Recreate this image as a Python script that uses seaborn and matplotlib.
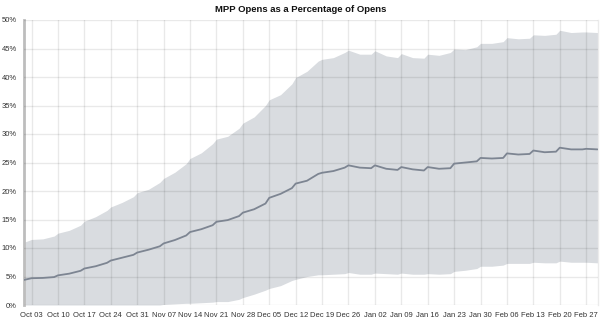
import matplotlib
matplotlib.use("Agg")
import matplotlib.pyplot as plt
import matplotlib.dates as mdates
from matplotlib.ticker import FuncFormatter, MultipleLocator
import seaborn as sns
import pandas as pd

dates = [
    "2021-10-01",
    "2021-10-03", "2021-10-06", "2021-10-09",
    "2021-10-10", "2021-10-13", "2021-10-16",
    "2021-10-17", "2021-10-20", "2021-10-23",
    "2021-10-24", "2021-10-27", "2021-10-30",
    "2021-10-31", "2021-11-03", "2021-11-06",
    "2021-11-07", "2021-11-10", "2021-11-13",
    "2021-11-14", "2021-11-17", "2021-11-20",
    "2021-11-21", "2021-11-24", "2021-11-27",
    "2021-11-28", "2021-12-01", "2021-12-04",
    "2021-12-05", "2021-12-08", "2021-12-11",
    "2021-12-12", "2021-12-15", "2021-12-18",
    "2021-12-19", "2021-12-22", "2021-12-25",
    "2021-12-26", "2021-12-29", "2022-01-01",
    "2022-01-02", "2022-01-05", "2022-01-08",
    "2022-01-09", "2022-01-12", "2022-01-15",
    "2022-01-16", "2022-01-19", "2022-01-22",
    "2022-01-23", "2022-01-26", "2022-01-29",
    "2022-01-30", "2022-02-02", "2022-02-05",
    "2022-02-06", "2022-02-09", "2022-02-12",
    "2022-02-13", "2022-02-16", "2022-02-19",
    "2022-02-20", "2022-02-23", "2022-02-26",
    "2022-02-27", "2022-03-02",
]

mpp_pct = [
    4.4,
    4.7, 4.75, 4.9,
    5.2, 5.5, 6.0,
    6.4, 6.8, 7.4,
    7.8, 8.3, 8.8,
    9.2, 9.7, 10.3,
    10.8, 11.4, 12.2,
    12.8, 13.3, 14.0,
    14.6, 14.9, 15.6,
    16.2, 16.8, 17.8,
    18.8, 19.5, 20.5,
    21.3, 21.8, 23.0,
    23.2, 23.5, 24.1,
    24.5, 24.1, 24.0,
    24.5, 23.9, 23.7,
    24.2, 23.8, 23.6,
    24.2, 23.9, 24.0,
    24.8, 25.0, 25.2,
    25.8, 25.7, 25.8,
    26.6, 26.4, 26.5,
    27.1, 26.8, 26.9,
    27.6, 27.3, 27.3,
    27.4, 27.3,
]

upper_pct = [
    11.0,
    11.5, 11.6, 12.1,
    12.6, 13.1, 14.0,
    14.7, 15.5, 16.6,
    17.2, 18.0, 19.0,
    19.7, 20.3, 21.5,
    22.2, 23.3, 24.8,
    25.7, 26.7, 28.3,
    29.1, 29.6, 31.0,
    31.9, 33.0, 35.0,
    36.0, 36.9, 38.8,
    39.9, 41.0, 42.8,
    43.1, 43.4, 44.3,
    44.7, 44.0, 44.0,
    44.6, 43.7, 43.4,
    44.1, 43.4, 43.3,
    44.0, 43.8, 44.3,
    44.9, 44.8, 45.3,
    45.9, 45.9, 46.2,
    46.9, 46.7, 46.8,
    47.4, 47.3, 47.5,
    48.2, 47.8, 47.9,
    47.9, 47.8,
]

lower_pct = [
    0.0,
    0.0, 0.0, 0.0,
    0.0, 0.0, 0.0,
    0.0, 0.0, 0.0,
    0.0, 0.0, 0.0,
    0.0, 0.0, 0.0,
    0.1, 0.2, 0.3,
    0.3, 0.4, 0.5,
    0.6, 0.6, 1.0,
    1.3, 1.9, 2.6,
    2.9, 3.4, 4.3,
    4.5, 5.0, 5.3,
    5.3, 5.4, 5.5,
    5.7, 5.4, 5.4,
    5.6, 5.5, 5.4,
    5.6, 5.4, 5.4,
    5.5, 5.4, 5.5,
    5.9, 6.1, 6.4,
    6.8, 6.8, 7.0,
    7.3, 7.3, 7.3,
    7.5, 7.4, 7.4,
    7.7, 7.5, 7.5,
    7.5, 7.4,
]

title = "MPP Opens as a Percentage of Opens"

df = pd.DataFrame({
    "date": pd.to_datetime(dates),
    "mpp": mpp_pct,
    "upper": upper_pct,
    "lower": lower_pct,
})

sns.set_style("white")
plt.rcParams["font.family"] = ["Liberation Sans", "DejaVu Sans"]

fig = plt.figure(figsize=(6.02, 3.21), dpi=100)
ax = fig.add_axes([24 / 602, 16 / 321, (597.5 - 24) / 602, 285 / 321])

ax.fill_between(df["date"], df["lower"], df["upper"], color="#d9dce0",
                linewidth=0, zorder=1)
sns.lineplot(data=df, x="date", y="mpp", ax=ax, color="#7d8592",
             linewidth=1.3, zorder=3)

ax.set_xlim(df["date"].iloc[0], df["date"].iloc[-1])
ax.set_ylim(0, 50)
ax.yaxis.set_major_locator(MultipleLocator(5))
ax.yaxis.set_major_formatter(FuncFormatter(lambda v, p: f"{int(round(v))}%"))
ax.xaxis.set_major_locator(mdates.WeekdayLocator(byweekday=mdates.SU))
ax.xaxis.set_major_formatter(mdates.DateFormatter("%b %d"))

ax.set_axisbelow(False)
ax.grid(True, color="black", alpha=0.085, linewidth=1.0, zorder=2)

for s in ["top", "bottom"]:
    ax.spines[s].set_visible(False)
ax.spines["right"].set_visible(True)
ax.spines["right"].set_color("#ebebeb")
ax.spines["right"].set_linewidth(1.0)
ax.spines["left"].set_color("#bdbdbd")
ax.spines["left"].set_linewidth(2.0)

ax.tick_params(axis="both", labelsize=5.5, colors="#333333", length=3,
               width=0.8, pad=2)
ax.tick_params(axis="both", color="#999999")
ax.set_xlabel("")
ax.set_ylabel("")

fig.text(0.5, 1 - 9 / 321, title, ha="center", va="center",
         fontsize=6.8, fontweight="bold", color="#111111")

fig.savefig("out.png", dpi=100)
